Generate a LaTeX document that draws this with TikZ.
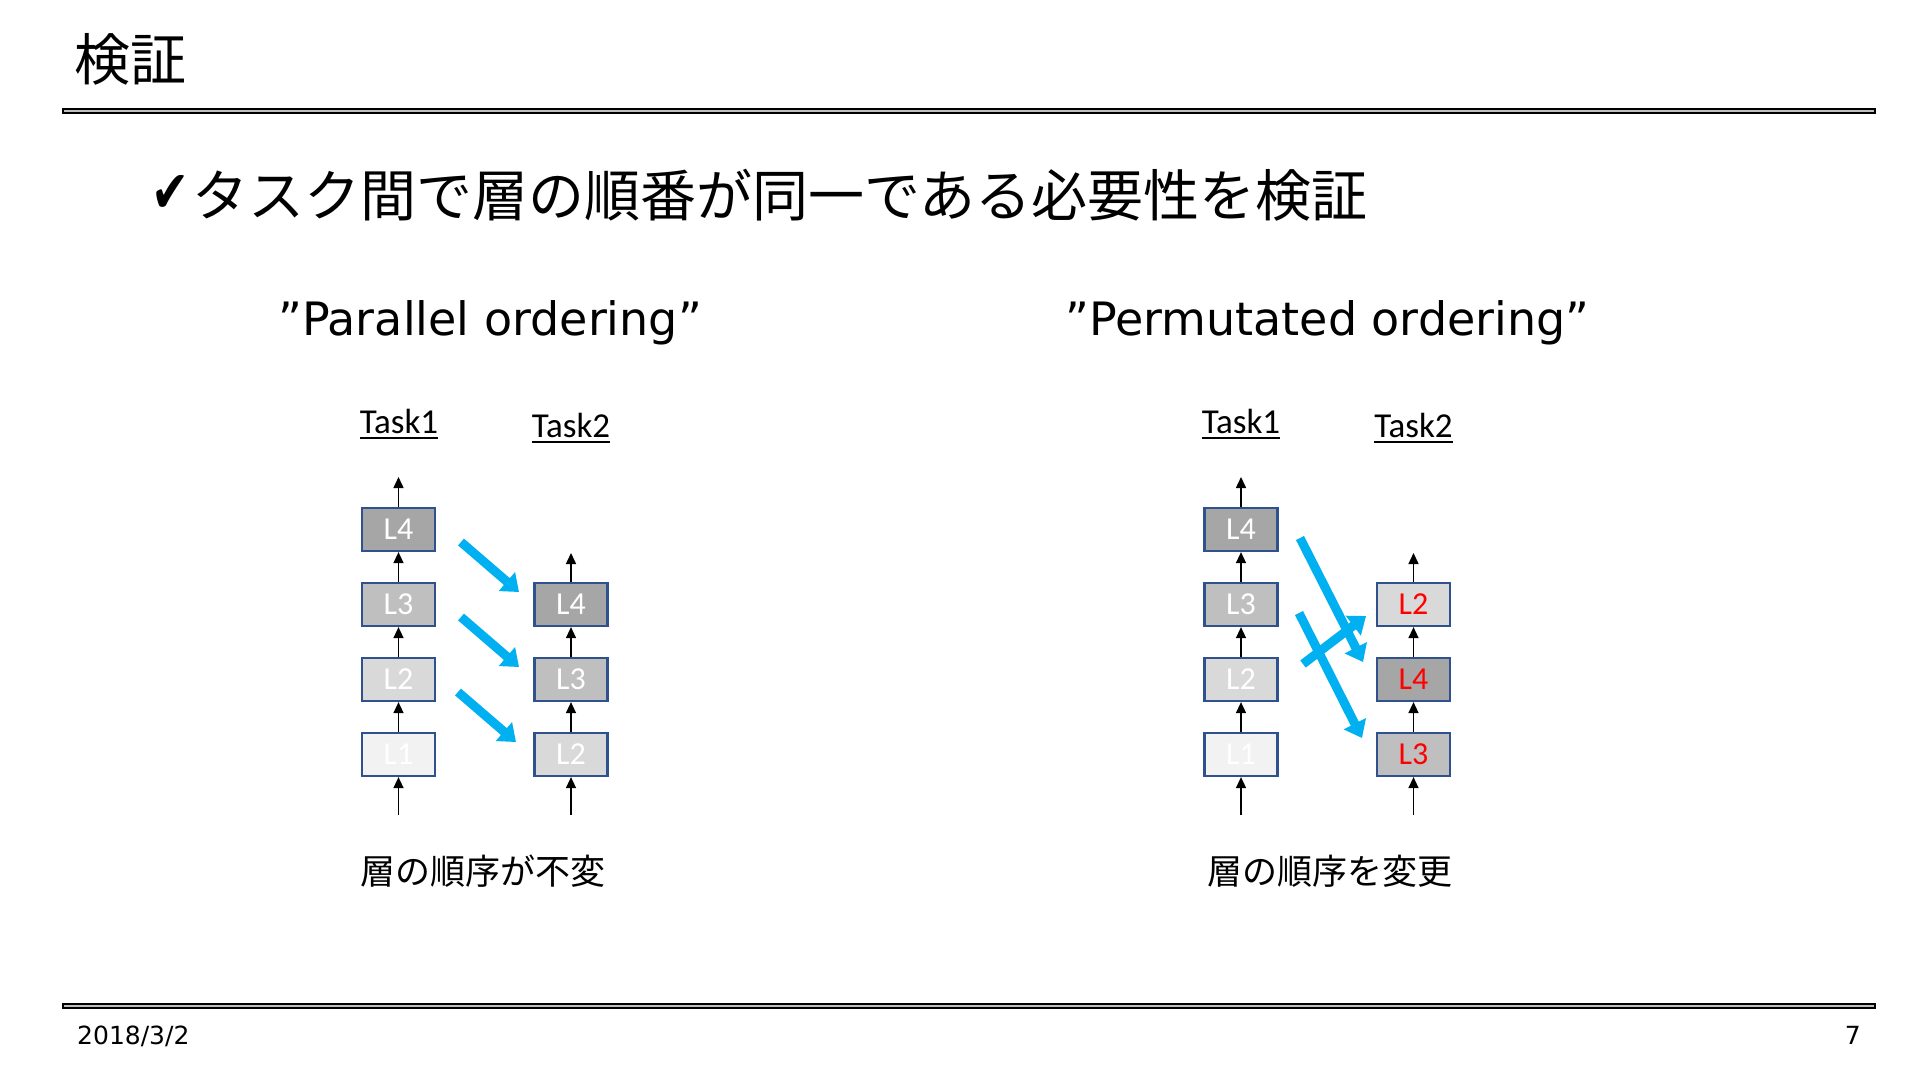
\documentclass[tikz,border=0pt]{standalone}
\usepackage{fontspec}
\usepackage{graphicx}
\setmainfont{DejaVu Sans}
\newfontfamily\jpfont{Noto Sans CJK JP}
\newfontfamily\calfont{Carlito}
\usetikzlibrary{arrows.meta}
\definecolor{boxblue}{HTML}{2F528F}
\definecolor{ga}{HTML}{A6A6A6}
\definecolor{gb}{HTML}{BFBFBF}
\definecolor{gc}{HTML}{D9D9D9}
\definecolor{gd}{HTML}{F2F2F2}
\definecolor{sky}{HTML}{00B0F0}
\definecolor{barg}{HTML}{BFBFBF}
\definecolor{redtxt}{HTML}{FF0000}
\begin{document}
\begin{tikzpicture}[x=1pt,y=-1pt,
  bar/.style={draw=black,line width=2pt,fill=barg,minimum width=1812pt,minimum height=4pt,inner sep=0pt},
  lbox/.style={draw=boxblue,line width=2.2pt,minimum width=73pt,minimum height=43pt,inner sep=0pt,text=white,font=\calfont\fontsize{32}{34}\selectfont},
  flow/.style={line width=1.5pt,-{Triangle[width=10pt,length=11pt]}},
  bluearrow/.style={draw=sky,line width=9pt,-{Triangle[width=24pt,length=16pt]}},
  tasklbl/.style={font=\calfont\fontsize{35}{38}\selectfont,inner sep=0pt,anchor=base},
  uline/.style={line width=2pt},
  jptext/.style={anchor=base west,inner sep=0pt,font=\jpfont\fontsize{#1}{#1}\selectfont},
  heading/.style={anchor=base west,inner sep=0pt,font=\fontsize{46}{50}\selectfont},
  foot/.style={inner sep=0pt,font=\fontsize{25}{27}\selectfont}
]
\useasboundingbox (0,0) rectangle (1920,1080);
\fill[white] (0,0) rectangle (1920,1080);

% header / footer bars
\node[bar] (topbar) at (969,111) {};
\node[bar] (botbar) at (969,1006) {};

% title and subtitle
\node[jptext=56] (title) at (74,80) {検証};
\node[anchor=base west,inner sep=0pt,font=\fontsize{40}{44}\selectfont] (chk) at (151,212) {\resizebox{38pt}{37pt}{✔}};
\node[jptext=56] (sub) at (192,216) {タスク間で層の順番が同一である必要性を検証};

% headings
\node[heading] (h1) at (278,335) {”Parallel ordering”};
\node[heading] (h2) at (1065,335) {”Permutated ordering”};

% ================= Left diagram =================
\node[tasklbl] (aT1) at (399,433) {Task1};
\node[tasklbl] (aT2) at (571,437) {Task2};
\draw[uline] ([yshift=-5pt]aT1.base west) -- ([yshift=-5pt]aT1.base east);
\draw[uline] ([yshift=-5pt]aT2.base west) -- ([yshift=-5pt]aT2.base east);

\node[lbox,fill=ga] (a1L4) at (398.5,529.5) {L4};
\node[lbox,fill=gb] (a1L3) at (398.5,604.5) {L3};
\node[lbox,fill=gc] (a1L2) at (398.5,679.5) {L2};
\node[lbox,fill=gd] (a1L1) at (398.5,754.5) {L1};
\coordinate (a1in) at (398.5,815);
\coordinate (a1out) at (398.5,477);
\draw[flow] (a1in) -- (a1L1.south);
\draw[flow] (a1L1.north) -- (a1L2.south);
\draw[flow] (a1L2.north) -- (a1L3.south);
\draw[flow] (a1L3.north) -- (a1L4.south);
\draw[flow] (a1L4.north) -- (a1out);

\node[lbox,fill=ga] (a2L4) at (571,604.5) {L4};
\node[lbox,fill=gb] (a2L3) at (571,679.5) {L3};
\node[lbox,fill=gc] (a2L2) at (571,754.5) {L2};
\coordinate (a2in) at (571,815);
\coordinate (a2out) at (571,553);
\draw[flow] (a2in) -- (a2L2.south);
\draw[flow] (a2L2.north) -- (a2L3.south);
\draw[flow] (a2L3.north) -- (a2L4.south);
\draw[flow] (a2L4.north) -- (a2out);

\coordinate (aS1) at (461,542);
\coordinate (aE1) at (519,592);
\coordinate (aS2) at (461,617);
\coordinate (aE2) at (519,667);
\coordinate (aS3) at (458,692);
\coordinate (aE3) at (516,742);
\draw[bluearrow] (aS1) -- (aE1);
\draw[bluearrow] (aS2) -- (aE2);
\draw[bluearrow] (aS3) -- (aE3);

\node[jptext=35] (acap) at (360,884) {層の順序が不変};

% ================= Right diagram =================
\node[tasklbl] (bT1) at (1241,433) {Task1};
\node[tasklbl] (bT2) at (1413.5,437) {Task2};
\draw[uline] ([yshift=-5pt]bT1.base west) -- ([yshift=-5pt]bT1.base east);
\draw[uline] ([yshift=-5pt]bT2.base west) -- ([yshift=-5pt]bT2.base east);

\node[lbox,fill=ga] (b1L4) at (1241,529.5) {L4};
\node[lbox,fill=gb] (b1L3) at (1241,604.5) {L3};
\node[lbox,fill=gc] (b1L2) at (1241,679.5) {L2};
\node[lbox,fill=gd] (b1L1) at (1241,754.5) {L1};
\coordinate (b1in) at (1241,815);
\coordinate (b1out) at (1241,477);
\draw[flow] (b1in) -- (b1L1.south);
\draw[flow] (b1L1.north) -- (b1L2.south);
\draw[flow] (b1L2.north) -- (b1L3.south);
\draw[flow] (b1L3.north) -- (b1L4.south);
\draw[flow] (b1L4.north) -- (b1out);

\node[lbox,fill=gc,text=redtxt] (b2L2) at (1413.5,604.5) {L2};
\node[lbox,fill=ga,text=redtxt] (b2L4) at (1413.5,679.5) {L4};
\node[lbox,fill=gb,text=redtxt] (b2L3) at (1413.5,754.5) {L3};
\coordinate (b2in) at (1413.5,815);
\coordinate (b2out) at (1413.5,553);
\draw[flow] (b2in) -- (b2L3.south);
\draw[flow] (b2L3.north) -- (b2L4.south);
\draw[flow] (b2L4.north) -- (b2L2.south);
\draw[flow] (b2L2.north) -- (b2out);

\coordinate (bSA) at (1300,538);
\coordinate (bEA) at (1363,662);
\coordinate (bSB) at (1299,613);
\coordinate (bEB) at (1362,738);
\coordinate (bSC) at (1303,664);
\coordinate (bEC) at (1366,616);
\draw[bluearrow] (bSA) -- (bEA);
\draw[bluearrow] (bSB) -- (bEB);
\draw[bluearrow] (bSC) -- (bEC);

\node[jptext=35] (bcap) at (1207,884) {層の順序を変更};

% footer texts
\node[foot,anchor=base west] (date) at (77,1044) {2018/3/2};
\node[foot,anchor=base east] (pnum) at (1861,1044) {7};
\end{tikzpicture}
\end{document}
